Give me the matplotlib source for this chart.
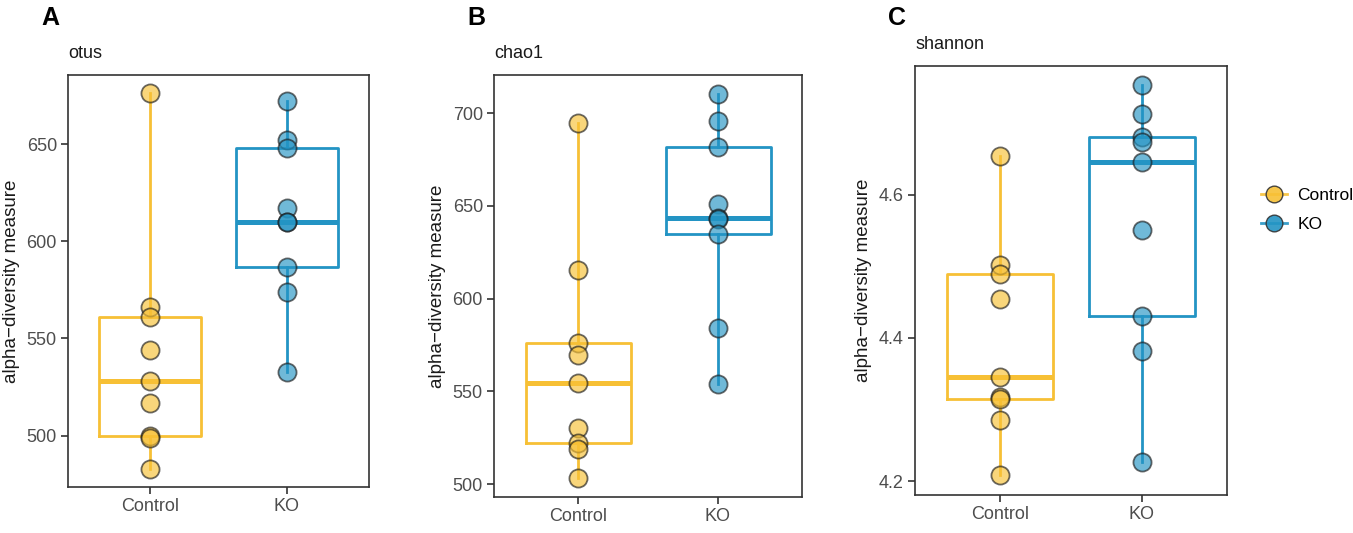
import matplotlib

matplotlib.use("Agg")

import matplotlib.pyplot as plt
from matplotlib.lines import Line2D

plt.rcParams["font.family"] = ["Liberation Sans", "DejaVu Sans"]

YELLOW = "#F7C035"
BLUE = "#2394C4"
FRAME = "#333333"
TICK_TXT = "#4D4D4D"

groups = ["Control", "KO"]

otus_control = [676, 566, 561, 544, 528, 517, 500, 499, 483]
otus_ko = [672, 652, 648, 617, 610, 610, 587, 574, 533]

chao1_control = [694.6, 615.2, 576.0, 569.4, 554.4, 530.4, 522.1, 519.0, 503.4]
chao1_ko = [710.4, 695.5, 681.5, 650.7, 643.6, 642.7, 634.9, 584.3, 553.7]

shannon_control = [4.654, 4.502, 4.489, 4.454, 4.346, 4.318, 4.315, 4.285, 4.209]
shannon_ko = [4.753, 4.713, 4.681, 4.674, 4.646, 4.551, 4.431, 4.382, 4.227]

panels = [
    dict(letter="A", title="otus", data=[otus_control, otus_ko], ylim=(473.6, 685.5),
         yticks=[500, 550, 600, 650], yfmt="{:.0f}", rect=(68, 369, 75, 487)),
    dict(letter="B", title="chao1", data=[chao1_control, chao1_ko], ylim=(493.0, 720.5),
         yticks=[500, 550, 600, 650, 700], yfmt="{:.0f}", rect=(494, 802, 75, 497)),
    dict(letter="C", title="shannon", data=[shannon_control, shannon_ko], ylim=(4.1805, 4.78),
         yticks=[4.2, 4.4, 4.6], yfmt="{:.1f}", rect=(915, 1227, 66, 495)),
]

W, H = 1353, 533
fig = plt.figure(figsize=(W / 100, H / 100), dpi=100, facecolor="white")

for panel in panels:
    left, right, top, bottom = panel["rect"]
    ax = fig.add_axes([left / W, 1 - bottom / H, (right - left) / W, (bottom - top) / H])
    colors = [YELLOW, BLUE]
    for pos, (values, color) in enumerate(zip(panel["data"], colors), start=1):
        ax.boxplot(values, positions=[pos], widths=0.75, whis=(0, 100), showfliers=False,
                   showcaps=False, patch_artist=False,
                   boxprops=dict(color=color, linewidth=2.0),
                   whiskerprops=dict(color=color, linewidth=2.0),
                   medianprops=dict(color=color, linewidth=3.6, solid_capstyle="butt"))
        ax.scatter([pos] * len(values), values, s=170, facecolor=color, alpha=0.65,
                   edgecolor="#1a1a1a", linewidth=1.3, zorder=3)
    ax.set_xlim(0.4, 2.6)
    ax.set_ylim(*panel["ylim"])
    ax.set_xticks([1, 2])
    ax.set_xticklabels(groups)
    ax.set_yticks(panel["yticks"])
    ax.set_yticklabels([panel["yfmt"].format(v) for v in panel["yticks"]])
    ax.tick_params(axis="both", length=5, width=1.2, color=FRAME, labelsize=13,
                   labelcolor=TICK_TXT, pad=3)
    for spine in ax.spines.values():
        spine.set_color(FRAME)
        spine.set_linewidth(1.2)
    ax.set_ylabel("alpha\u2212diversity measure", fontsize=13.5, color="#1a1a1a", labelpad=5)
    fig.text(left / W, 1 - (top - 17) / H, panel["title"], fontsize=13,
             color="#1a1a1a", ha="left", va="baseline")
    fig.text((left - 27) / W, 1 - 6 / H, panel["letter"], fontsize=18, fontweight="bold",
             ha="left", va="top")

handles = [Line2D([0], [0], color=c, linewidth=2.0, marker="o", markersize=12,
                  markerfacecolor=c, markeredgecolor="#333333", markeredgewidth=1.0, alpha=0.9)
           for c in [YELLOW, BLUE]]
fig.legend(handles, groups, loc="center left", bbox_to_anchor=(1254 / W, 1 - 210 / H),
           frameon=False, fontsize=12.5, handlelength=1.5, labelspacing=0.75, handletextpad=0.6,
           borderaxespad=0)

fig.savefig("out.png", dpi=100, facecolor="white")
